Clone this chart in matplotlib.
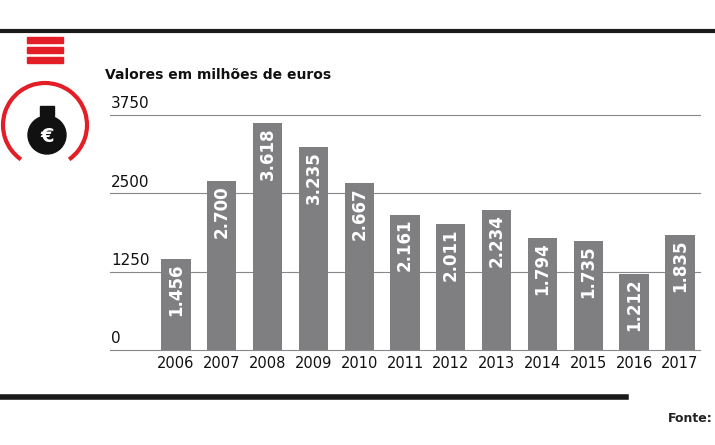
import matplotlib
matplotlib.use("Agg")
import matplotlib.pyplot as plt
from matplotlib.patches import Arc, Circle, Rectangle

years = ["2006","2007","2008","2009","2010","2011","2012","2013","2014","2015","2016","2017"]
values = [1456,2700,3618,3235,2667,2161,2011,2234,1794,1735,1212,1835]
labels = ["1.456","2.700","3.618","3.235","2.667","2.161","2.011","2.234","1.794","1.735","1.212","1.835"]
yticks = [0,1250,2500,3750]

W,H = 715,445
fig = plt.figure(figsize=(W/100,H/100), dpi=100)
fig.patch.set_facecolor("white")

fig.add_artist(plt.Line2D([0,1],[1-31/H,1-31/H], color="#1a1a1a", lw=3))
fig.add_artist(plt.Line2D([0,0.875],[1-397/H,1-397/H], color="#1a1a1a", lw=4))
fig.text(0.997, 1-422/H, "Fonte:", fontsize=9, fontweight="bold", color="#222", ha="right")

ax = fig.add_axes([110/W, 1-350/H, 590/W, 235/H])
x = list(range(len(years)))
ax.bar(x, values, width=0.64, color="#7f7f81", zorder=3)
ax.set_xlim(-1.44, 11.44)
ax.set_ylim(0, 3750)
for v in yticks:
    ax.axhline(v, color="#888", lw=0.8, zorder=1, clip_on=False)
    ax.text(-1.44+0.02, v+60, str(v), fontsize=11, color="#111", va="bottom", ha="left")
for xi, v, l in zip(x, values, labels):
    ax.text(xi, v-70, l, rotation=90, ha="center", va="top", color="white", fontsize=12, fontweight="bold", zorder=4)
ax.set_xticks(x)
ax.set_xticklabels(years, fontsize=10.5, color="#111")
ax.tick_params(length=0, pad=4)
ax.set_yticks([])
for s in ax.spines.values():
    s.set_visible(False)
ax.patch.set_alpha(0)

fig.text(105/W, 1-75/H, "Valores em milhões de euros", fontsize=10, fontweight="bold", color="#111", va="center")

ia = fig.add_axes([0, 1-200/H, 100/W, 170/H])
ia.set_xlim(0,100); ia.set_ylim(170,0); ia.axis("off")
ia.add_patch(Arc((45,95), 84, 84, theta1=-235, theta2=55, color="#e41e26", lw=3))
for yy in (10,20,30):
    ia.add_patch(Rectangle((27,yy-3),36,6,color="#e41e26"))
ia.add_patch(Circle((47,105),19,color="#111"))
ia.add_patch(Rectangle((40,76),14,10,color="#111"))
ia.text(47,106,"€",color="white",ha="center",va="center",fontsize=14,fontweight="bold")

fig.savefig("out.png", dpi=100)
